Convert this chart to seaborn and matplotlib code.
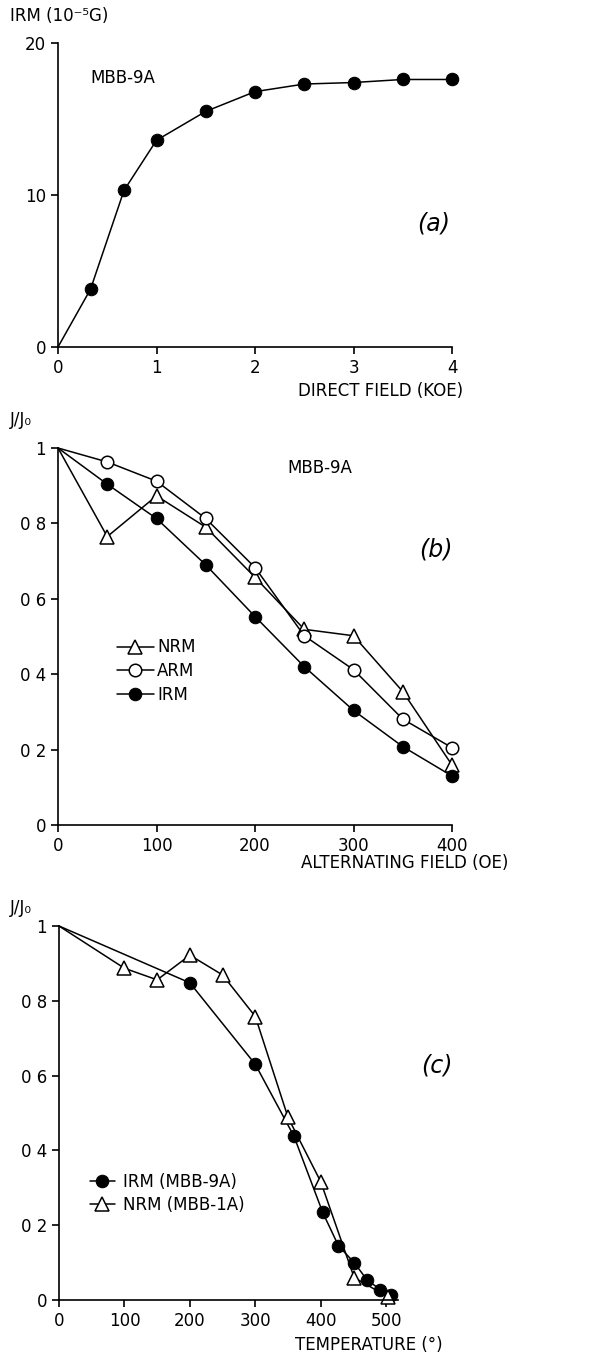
import numpy as np
import matplotlib
matplotlib.use("Agg")
import matplotlib.pyplot as plt
import seaborn as sns

# === Data ===
# (a) IRM acquisition
field_koe = [0, 0.33, 0.67, 1.0, 1.5, 2.0, 2.5, 3.0, 3.5, 4.0]
irm_acq = [0, 3.8, 10.3, 13.6, 15.5, 16.8, 17.3, 17.4, 17.6, 17.6]

# (b) AF demagnetization
af_oe = [0, 50, 100, 150, 200, 250, 300, 350, 400]
nrm_af = [1.0, 0.765, 0.873, 0.79, 0.657, 0.519, 0.502, 0.354, 0.159]
arm_af = [1.0, 0.963, 0.912, 0.813, 0.683, 0.502, 0.412, 0.281, 0.205]
irm_af = [1.0, 0.904, 0.813, 0.69, 0.553, 0.42, 0.304, 0.208, 0.13]

# (c) thermal demagnetization
temp_irm = [0, 200, 300, 359, 403, 427, 451, 471, 491, 508]
irm_th = [1.0, 0.848, 0.63, 0.438, 0.234, 0.145, 0.10, 0.053, 0.028, 0.013]
temp_nrm = [0, 100, 150, 200, 250, 300, 350, 400, 451, 502]
nrm_th = [1.0, 0.887, 0.856, 0.922, 0.869, 0.758, 0.488, 0.316, 0.06, 0.009]

ab_ticks = ["0", "0 2", "0 4", "0 6", "0 8", "1"]

sns.set_style("ticks")
plt.rcParams["font.family"] = ["DejaVu Sans"]
plt.rcParams["text.color"] = "black"
FS = 12

W, H = 596, 1357
fig = plt.figure(figsize=(W / 100, H / 100), dpi=100)


def px_axes(x0, y_top, w, h):
    return fig.add_axes([x0 / W, 1 - (y_top + h) / H, w / W, h / H])


filled = dict(color="black", marker="o", markersize=9, markerfacecolor="black",
              markeredgecolor="black", linewidth=1.1)
open_c = dict(color="black", marker="o", markersize=9, markerfacecolor="white",
              markeredgecolor="black", markeredgewidth=1.1, linewidth=1.1)
open_t = dict(color="black", marker="^", markersize=10, markerfacecolor="white",
              markeredgecolor="black", markeredgewidth=1.1, linewidth=1.1)


def skip0(xs):
    # the starting point is drawn without a symbol
    return list(range(1, len(xs)))


def style(ax):
    sns.despine(ax=ax)
    for s in ("left", "bottom"):
        ax.spines[s].set_linewidth(1.2)
        ax.spines[s].set_color("black")
    ax.tick_params(direction="out", length=5, width=1.2, labelsize=FS,
                   colors="black", labelcolor="black")
    ax.set_xlabel("")
    ax.set_ylabel("")


# === (a) ===
ax1 = px_axes(58, 43, 394, 304)
sns.lineplot(x=field_koe, y=irm_acq, ax=ax1, sort=False, clip_on=False,
             markevery=skip0(field_koe), **filled)
ax1.set_xlim(0, 4)
ax1.set_ylim(0, 20)
ax1.set_xticks([0, 1, 2, 3, 4])
ax1.set_yticks([0, 10, 20])
style(ax1)
ax1.text(0.33, 17.7, "MBB-9A", fontsize=FS, va="center", ha="left")
ax1.text(3.65, 8.1, "(a)", fontsize=17, style="italic", va="center", ha="left")
fig.text(10 / W, 1 - 16 / H, "IRM (10⁻⁵G)", fontsize=FS, va="center", ha="left")
fig.text(463 / W, 1 - 391 / H, "DIRECT FIELD (KOE)", fontsize=FS, va="center", ha="right")

# === (b) ===
ax2 = px_axes(58, 448, 394, 377)
sns.lineplot(x=af_oe, y=nrm_af, ax=ax2, sort=False, clip_on=False, label="NRM",
             markevery=skip0(af_oe), **open_t)
sns.lineplot(x=af_oe, y=arm_af, ax=ax2, sort=False, clip_on=False, label="ARM",
             markevery=skip0(af_oe), **open_c)
sns.lineplot(x=af_oe, y=irm_af, ax=ax2, sort=False, clip_on=False, label="IRM",
             markevery=skip0(af_oe), **filled)
ax2.set_xlim(0, 400)
ax2.set_ylim(0, 1)
ax2.set_xticks([0, 100, 200, 300, 400])
ax2.set_yticks(np.linspace(0, 1, 6))
ax2.set_yticklabels(ab_ticks)
style(ax2)
ax2.legend(loc="upper left", bbox_to_anchor=(0.15, 0.495), frameon=False, fontsize=FS,
           handlelength=2.2, handletextpad=0.2, labelspacing=0.35, borderpad=0,
           borderaxespad=0)
ax2.text(233, 0.947, "MBB-9A", fontsize=FS, va="center", ha="left")
ax2.text(367, 0.73, "(b)", fontsize=17, style="italic", va="center", ha="left")
fig.text(10 / W, 1 - 420 / H, "J/J₀", fontsize=FS, va="center", ha="left")
fig.text(508 / W, 1 - 863 / H, "ALTERNATING FIELD (OE)", fontsize=FS, va="center", ha="right")

# === (c) ===
ax3 = px_axes(59, 926, 339, 374)
sns.lineplot(x=temp_irm, y=irm_th, ax=ax3, sort=False, clip_on=False,
             label="IRM (MBB-9A)", markevery=skip0(temp_irm), **filled)
sns.lineplot(x=temp_nrm, y=nrm_th, ax=ax3, sort=False, clip_on=False,
             label="NRM (MBB-1A)", markevery=skip0(temp_nrm), **open_t)
ax3.set_xlim(0, 518)
ax3.set_ylim(0, 1)
ax3.set_xticks([0, 100, 200, 300, 400, 500])
ax3.set_yticks(np.linspace(0, 1, 6))
ax3.set_yticklabels(ab_ticks)
style(ax3)
ax3.legend(loc="upper left", bbox_to_anchor=(0.09, 0.34), frameon=False, fontsize=FS,
           handlelength=1.5, handletextpad=0.5, labelspacing=0.3, borderpad=0,
           borderaxespad=0)
ax3.text(554, 0.626, "(c)", fontsize=17, style="italic", va="center", ha="left")
fig.text(10 / W, 1 - 908 / H, "J/J₀", fontsize=FS, va="center", ha="left")
fig.text(443 / W, 1 - 1345 / H, "TEMPERATURE (°)", fontsize=FS, va="center", ha="right")

fig.savefig("out.png", dpi=100, facecolor="white")
